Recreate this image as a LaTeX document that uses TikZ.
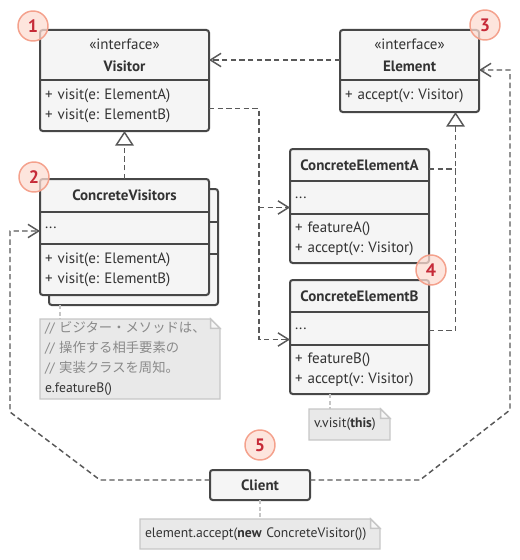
\documentclass[tikz,border=0pt]{standalone}
\usepackage{fontspec}
\setmainfont{PT Sans}
\newfontfamily\jpfont{Noto Sans CJK JP}
\usetikzlibrary{positioning,arrows.meta,backgrounds}
\frenchspacing

\definecolor{ink}{HTML}{333333}
\definecolor{boxline}{HTML}{474747}
\definecolor{boxfill}{HTML}{F5F5F5}
\definecolor{linkgray}{HTML}{595959}
\definecolor{notefill}{HTML}{E9E9E9}
\definecolor{noteline}{HTML}{C6C6C6}
\definecolor{notetext}{HTML}{8A8A8A}
\definecolor{badgefill}{HTML}{FDDCD2}
\definecolor{badgeline}{HTML}{F4A18C}
\definecolor{badgetext}{HTML}{C62A38}

\tikzset{
    every node/.style={outer sep=0pt, text=ink},
    part/.style={fill=boxfill, inner xsep=3.75pt, inner ysep=0pt},
    wide/.style={text width=119.25pt},
    slim/.style={text width=96.75pt},
    hdr/.style={part, align=center, font=\fontsize{11.25}{16.5}\selectfont},
    body/.style={part, align=left, font=\fontsize{11.25}{15}\selectfont},
    frame/.style={draw=boxline, line width=1.5pt, rounded corners=2pt},
    rule/.style={draw=boxline, line width=1.5pt},
    plain/.style={draw=linkgray, line width=1.1pt, dash pattern=on 4pt off 2.5pt},
    dep/.style={plain, -{Straight Barb[length=8pt,width=10pt]}},
    inh/.style={plain, -{Triangle[open,fill=white,length=11pt,width=14pt]}},
    notelink/.style={draw=noteline, line width=1.1pt, dash pattern=on 3pt off 2pt},
    note/.style={inner xsep=3.75pt, inner ysep=0pt, align=left, font=\fontsize{10.25}{15}\selectfont},
    badge/.style={circle, fill=badgefill, draw=badgeline, line width=1.1pt, minimum size=22.5pt,
        inner sep=0pt, fill opacity=0.75, text opacity=1, text=badgetext,
        font=\fontsize{13.5}{13.5}\selectfont\bfseries},
}

% paper shape with a folded corner, behind a note
\newcommand\paper[1]{%
    \begin{scope}[on background layer]
        \draw[draw=noteline, fill=notefill, line width=1.1pt]
            (#1.south west) -- (#1.north west) -- ([xshift=-7pt]#1.north east)
            -- ([yshift=-7pt]#1.north east) -- (#1.south east) -- cycle;
        \draw[draw=noteline, fill=white!60!notefill, line width=1.1pt]
            ([xshift=-7pt]#1.north east) |- ([yshift=-7pt]#1.north east) -- cycle;
    \end{scope}}
\newcommand\jp[1]{{\jpfont\fontsize{10}{15}\selectfont #1}}

\begin{document}
\begin{tikzpicture}[x=0.75pt, y=-0.75pt]
    \useasboundingbox (0,0) rectangle (520,560);

    % interfaces
    \node[hdr, wide, minimum height=37.5pt] (vhead) at (124.5,55) {«interface»\\\textbf{Visitor}};
    \node[body, wide, minimum height=38.25pt, below=0pt of vhead] (vops) {+ visit(e: ElementA)\\+ visit(e: ElementB)};
    \node[hdr, slim, minimum height=37.5pt] (ehead) at (409.5,55) {«interface»\\\textbf{Element}};
    \node[body, slim, minimum height=24pt, below=0pt of ehead] (eops) {+ accept(v: Visitor)};

    % concrete visitors, with a card behind
    \node[hdr, wide, minimum height=24.75pt, below=36pt of vops] (cvh) {\textbf{ConcreteVisitors}};
    \node[body, wide, minimum height=24pt, below=0pt of cvh] (cvf) {...};
    \node[body, wide, minimum height=38.25pt, below=0pt of cvf] (cvo) {+ visit(e: ElementA)\\+ visit(e: ElementB)};
    \begin{scope}[on background layer]
        \draw[frame, fill=boxfill] ([shift={(9,10)}]cvh.north west) rectangle ([shift={(9,10)}]cvo.south east);
        \draw[rule] ([shift={(9,10)}]cvh.south west) -- ([shift={(9,10)}]cvh.south east);
        \draw[rule] ([shift={(9,10)}]cvf.south west) -- ([shift={(9,10)}]cvf.south east);
    \end{scope}

    % concrete elements
    \node[hdr, slim, minimum height=24pt] (ceah) at (359.5,165) {\textbf{ConcreteElementA}};
    \node[body, slim, minimum height=24.75pt, below=0pt of ceah] (ceaf) {...};
    \node[body, slim, minimum height=36.75pt, below=0pt of ceaf] (ceao) {+ featureA()\\+ accept(v: Visitor)};
    \node[hdr, slim, minimum height=24pt, below=12.75pt of ceao] (cebh) {\textbf{ConcreteElementB}};
    \node[body, slim, minimum height=24.75pt, below=0pt of cebh] (cebf) {...};
    \node[body, slim, minimum height=36.75pt, below=0pt of cebf] (cebo) {+ featureB()\\+ accept(v: Visitor)};

    \foreach \hd/\ft in {vhead/vops, ehead/eops, cvh/cvo, ceah/ceao, cebh/cebo}
        \draw[frame] (\hd.north west) rectangle (\ft.south east);
    \foreach \cut in {vhead, ehead, cvh, cvf, ceah, ceaf, cebh, cebf}
        \draw[rule] (\cut.south west) -- (\cut.south east);

    \node[frame, fill=boxfill, minimum width=75pt, minimum height=22.5pt,
        font=\fontsize{11.25}{12}\selectfont\bfseries] (client) at (260,485) {Client};

    % notes
    \node[note, text width=127.5pt, minimum height=60pt] (note1) at (130,359)
        {{\color{notetext}// \jp{ビジター・メソッドは、}}\\
         {\color{notetext}// \jp{操作する相手要素の}}\\
         {\color{notetext}// \jp{実装クラスを周知。}}\\
         e.featureB()};
    \node[note, text width=53.25pt, minimum height=23.25pt] (note2) at (349.5,424.5) {v.visit(\textbf{this})};
    \node[note, text width=172.5pt, minimum height=22.5pt] (note3) at (260,534)
        {element.accept(\textbf{new} ConcreteVisitor())};
    \foreach \n in {note1, note2, note3}
        \paper{\n};

    % links
    \draw[dep] ([shift={(0,5)}]ehead.west) -- ([shift={(0,5)}]vhead.east);
    \coordinate (vbus) at ([shift={(50,3)}]vops.east);
    \coordinate (atA) at ([shift={(0,10)}]ceaf.west);
    \coordinate (atB) at ([shift={(0,11)}]cebf.west);
    \draw[dep] ([shift={(0,3)}]vops.east) -- (vbus) |- (atB);
    \draw[dep] (vbus |- atA) -- (atA);

    \coordinate (etip) at ([shift={(46,0)}]eops.south);
    \draw[inh] ([shift={(0,2)}]cebf.east) -| (etip);
    \draw[plain] ([shift={(0,4)}]ceah.east) -- ([shift={(0,4)}]ceah.east -| etip);
    \draw[inh] (cvh.north) -- (vops.south);

    \draw[dep] ([shift={(0,-5)}]client.west) -- ++(-110,0) -- ++(-90,-68) |- ([shift={(0,3)}]cvf.west);
    \draw[dep] ([shift={(0,-5)}]client.east) -- ++(110,0) -- ++(90,-70) |- ([shift={(0,15)}]ehead.east);

    \coordinate (cvfoot) at ([shift={(20,10)}]cvo.south west);
    \coordinate (cebfoot) at ([shift={(-29.5,0)}]cebo.south);
    \draw[notelink] (cvfoot) -- (cvfoot |- note1.north);
    \draw[notelink] (cebfoot) -- (cebfoot |- note2.north);
    \draw[notelink] (client.south) -- (note3.north);

    % numbers
    \node[badge] (b1) at ([shift={(-7,-4)}]vhead.north west) {1};
    \node[badge] (b2) at ([shift={(-6,-2)}]cvh.north west) {2};
    \node[badge] (b3) at ([shift={(6,-5)}]ehead.north east) {3};
    \node[badge] (b4) at ([shift={(2,7)}]ceao.south east) {4};
    \node[badge] (b5) at ([shift={(0,-25)}]client.north) {5};
\end{tikzpicture}
\end{document}
